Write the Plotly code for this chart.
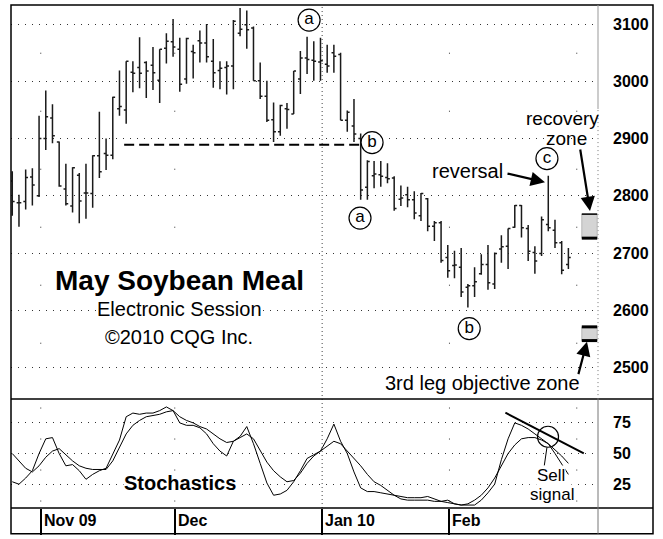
import plotly.graph_objects as go

# daily bars, late Oct 2009 to end of Feb 2010
opens = [2826, 2788, 2790, 2833, 2800, 2900, 2936, 2894, 2812, 2782,
         2836, 2805, 2804, 2870, 2874, 2871, 2952, 2950, 3016, 3024,
         3033, 3028, 3002, 3058, 3069, 3056, 3004, 3052, 3071, 3067,
         3035, 3019, 3024, 3027, 3084, 3099, 3093, 3001, 2974, 2933,
         2912, 2952, 2943, 3004, 3041, 3037, 3034, 3030, 3050, 3047,
         2932, 2922, 2900, 2815, 2835, 2837, 2832, 2831, 2794, 2802,
         2793, 2765, 2795, 2747, 2753, 2692, 2678, 2675, 2640, 2643,
         2664, 2680, 2646, 2707, 2712, 2745, 2783, 2743, 2701, 2699,
         2750, 2740, 2718, 2680]
highs = [2843, 2802, 2846, 2848, 2940, 2984, 2960, 2895, 2856, 2850,
         2840, 2856, 2871, 2947, 2900, 2973, 3019, 3035, 3035, 3077,
         3035, 3060, 3056, 3084, 3109, 3076, 3076, 3064, 3089, 3100,
         3074, 3035, 3035, 3107, 3128, 3124, 3096, 3033, 3001, 2963,
         2959, 2962, 3018, 3053, 3078, 3070, 3076, 3064, 3064, 3050,
         2949, 2969, 2909, 2862, 2861, 2861, 2857, 2834, 2818, 2816,
         2808, 2805, 2796, 2756, 2756, 2714, 2704, 2709, 2646, 2675,
         2698, 2714, 2701, 2731, 2743, 2784, 2784, 2749, 2712, 2764,
         2835, 2758, 2721, 2709]
lows = [2765, 2746, 2776, 2783, 2798, 2880, 2892, 2816, 2783, 2771,
        2752, 2760, 2779, 2831, 2845, 2864, 2940, 2926, 2981, 2988,
        2971, 2985, 2962, 3031, 3043, 2982, 2996, 3005, 3033, 3033,
        2989, 2986, 2977, 2986, 3079, 3057, 3001, 2969, 2929, 2894,
        2905, 2917, 2943, 2978, 3013, 3001, 3001, 3015, 3015, 2932,
        2912, 2894, 2793, 2793, 2813, 2816, 2822, 2774, 2782, 2780,
        2759, 2756, 2738, 2721, 2683, 2657, 2656, 2623, 2605, 2623,
        2662, 2636, 2637, 2683, 2672, 2744, 2727, 2686, 2664, 2695,
        2738, 2709, 2663, 2672]
closes = [2790, 2788, 2832, 2819, 2900, 2938, 2905, 2817, 2786, 2849,
          2791, 2805, 2870, 2842, 2871, 2972, 2956, 3035, 3014, 3014,
          3018, 3015, 3056, 3070, 3060, 2995, 3075, 3050, 3067, 3043,
          3015, 3023, 3027, 3105, 3091, 3090, 3001, 2974, 2932, 2912,
          2958, 2951, 3018, 3041, 3038, 3035, 3036, 3027, 3044, 2932,
          2946, 2908, 2810, 2860, 2838, 2834, 2830, 2778, 2796, 2793,
          2770, 2804, 2747, 2753, 2687, 2669, 2679, 2632, 2643, 2650,
          2680, 2648, 2699, 2711, 2743, 2783, 2744, 2703, 2686, 2758,
          2744, 2718, 2670, 2692]

stoch_k = [27, 25, 30, 36, 50, 62, 63, 50, 40, 41,
           36, 29, 33, 36, 38, 50, 61, 80, 83, 82,
           83, 83, 85, 88, 85, 75, 73, 73, 71, 66,
           58, 52, 48, 60, 64, 72, 58, 42, 26, 16,
           17, 20, 27, 36, 46, 49, 52, 62, 74, 60,
           50, 35, 22, 19, 19, 18, 17, 16, 15, 14,
           14, 14, 15, 13, 11, 12, 9, 8, 8, 8,
           12, 18, 25, 45, 62, 75, 73, 70, 66, 62,
           58, 50, 42, 33]
stoch_d = [50, 44, 38, 35, 40, 47, 52, 54, 49, 44,
           40, 38, 37, 37, 37, 44, 55, 66, 73, 77,
           80, 81, 82, 84, 85, 80, 77, 75, 72, 70,
           66, 62, 59, 60, 63, 66, 62, 53, 43, 36,
           31, 27, 28, 34, 42, 48, 52, 56, 60, 58,
           52, 46, 40, 33, 27, 24, 20, 16, 13, 12,
           12, 12, 12, 11, 11, 10, 9, 8, 9, 12,
           16, 22, 30, 40, 50, 57, 62, 63, 63, 61,
           58, 53, 48, 42]

month_labels = ["Nov 09", "Dec", "Jan 10", "Feb"]
month_first_bar = [4, 24, 46, 65]
price_ticks = [2500, 2600, 2700, 2800, 2900, 3000, 3100]
stoch_ticks = [25, 50, 75]

wave_labels = ["a", "b", "a", "b", "c"]
wave_x = [44.3, 53.7, 51.9, 68.2, 79.8]
wave_y = [3107, 2893, 2761, 2568, 2865]

neckline = 2889
recovery_zone = (2726, 2768)
objective_zone = (2547, 2571)

bar_index = list(range(len(opens)))

# pixel frame of the reference
LEFT, RIGHT, TOP, BOTTOM, SPLIT = 11, 598, 5, 513, 403
FONT = "Liberation Sans, Arial, sans-serif"


def px_x(px):
    return (px - LEFT) / (RIGHT - LEFT)


def px_y(py):
    return (BOTTOM - py) / (BOTTOM - TOP)


x_range = [-0.19, 87.42]
month_ticks = [b + 0.25 for b in month_first_bar]

fig = go.Figure()

fig.add_trace(go.Ohlc(
    x=bar_index, open=opens, high=highs, low=lows, close=closes,
    increasing=dict(line=dict(color="#1a1a1a", width=1.5)),
    decreasing=dict(line=dict(color="#1a1a1a", width=1.5)),
    tickwidth=0.35, xaxis="x", yaxis="y", hoverinfo="skip", showlegend=False,
))

fig.add_trace(go.Scatter(x=bar_index, y=stoch_d, mode="lines", xaxis="x2", yaxis="y2",
                         line=dict(color="black", width=1), hoverinfo="skip"))
fig.add_trace(go.Scatter(x=bar_index, y=stoch_k, mode="lines", xaxis="x2", yaxis="y2",
                         line=dict(color="black", width=1), hoverinfo="skip"))

fig.add_trace(go.Scatter(
    x=wave_x, y=wave_y, mode="markers+text", text=wave_labels,
    textposition="middle center", textfont=dict(size=17, color="black", family=FONT),
    marker=dict(symbol="circle", size=22, color="white", line=dict(color="black", width=1.2)),
    xaxis="x", yaxis="y", hoverinfo="skip",
))

# sell-signal circle on the stochastics
fig.add_trace(go.Scatter(
    x=[79.96], y=[63.7], mode="markers", xaxis="x2", yaxis="y2", hoverinfo="skip",
    marker=dict(symbol="circle-open", size=21, color="black", line=dict(width=1.2)),
))

shapes = []
# vertical month grid: sparse dots, the year change dense
for b in month_first_bar + [84]:
    xv = b + 0.25
    if b == 46:
        continue
    shapes.append(dict(type="line", xref="x", yref="y", x0=xv, x1=xv, y0=3050, y1=2445,
                       line=dict(color="#333", width=1, dash="1px,57px")))
    shapes.append(dict(type="line", xref="x2", yref="y2", x0=xv, x1=xv, y0=87.5, y1=6,
                       line=dict(color="#333", width=1, dash="1px,30px")))
jan = month_ticks[2]
shapes.append(dict(type="line", xref="x", yref="paper", x0=jan, x1=jan, y0=0, y1=1,
                   line=dict(color="#444", width=1, dash="1px,3px")))

# frame
shapes.append(dict(type="rect", xref="paper", yref="paper", x0=0, x1=px_x(653),
                   y0=px_y(539), y1=1, line=dict(color="black", width=1.5)))
shapes.append(dict(type="line", xref="paper", yref="paper", x0=0, x1=px_x(653),
                   y0=px_y(SPLIT), y1=px_y(SPLIT), line=dict(color="black", width=1.5)))
shapes.append(dict(type="line", xref="paper", yref="paper", x0=0, x1=px_x(653),
                   y0=0, y1=0, line=dict(color="black", width=1.5)))
shapes.append(dict(type="line", xref="paper", yref="paper", x0=1, x1=1,
                   y0=px_y(539), y1=px_y(SPLIT), line=dict(color="#777", width=1)))
shapes.append(dict(type="line", xref="paper", yref="paper", x0=1, x1=1,
                   y0=px_y(SPLIT), y1=px_y(110), line=dict(color="#777", width=1, dash="1px,3px")))
shapes.append(dict(type="line", xref="paper", yref="paper", x0=1, x1=1,
                   y0=px_y(110), y1=1, line=dict(color="#999", width=1)))

# neckline
shapes.append(dict(type="line", xref="x", yref="y", x0=16.7, x1=52.2, y0=neckline, y1=neckline,
                   line=dict(color="black", width=2, dash="10px,5px")))

# target zones
for lo, hi, w_top, w_bot in [(*recovery_zone, 1.5, 3), (*objective_zone, 3, 3)]:
    shapes.append(dict(type="rect", xref="x", yref="y", x0=85.0, x1=87.3, y0=lo, y1=hi,
                       fillcolor="#d4d4d4", line=dict(color="#aaa", width=0.8)))
    shapes.append(dict(type="line", xref="x", yref="y", x0=85.0, x1=87.3, y0=hi, y1=hi,
                       line=dict(color="black", width=w_top)))
    shapes.append(dict(type="line", xref="x", yref="y", x0=85.0, x1=87.3, y0=lo, y1=lo,
                       line=dict(color="black", width=w_bot)))

# stochastic trend line and pointer to the sell text
shapes.append(dict(type="line", xref="x2", yref="y2", x0=73.6, x1=85.3, y0=83.3, y1=50.2,
                   line=dict(color="black", width=2)))
shapes.append(dict(type="line", xref="x2", yref="y2", x0=79.8, x1=79.4, y0=55.0, y1=40.0,
                   line=dict(color="black", width=1)))

annotations = []


def text(s, px, py, size, bold=False, bg=None):
    annotations.append(dict(
        text=f"<b>{s}</b>" if bold else s, x=px_x(px), y=px_y(py), xref="paper", yref="paper",
        showarrow=False, font=dict(size=size, color="black", family=FONT),
        bgcolor=bg, borderpad=0, xanchor="center", yanchor="middle",
    ))


text("May Soybean Meal", 179, 283, 28, bold=True, bg="white")
text("Electronic Session", 179, 312, 20, bg="white")
text("©2010 CQG Inc.", 179, 340, 20, bg="white")
text("reversal", 467, 173, 20, bg="white")
text("recovery", 562, 120, 19)
text("zone", 566, 140, 19)
text("3rd leg objective zone", 482, 387, 20, bg="white")
text("Stochastics", 180, 488, 20, bold=True, bg="white")
text("Sell", 551, 480, 17, bg="white")
text("signal", 552, 499, 17, bg="white")


def arrow(tail, head):
    annotations.append(dict(
        text="", x=px_x(head[0]), y=px_y(head[1]), xref="paper", yref="paper",
        ax=tail[0] - head[0], ay=tail[1] - head[1], showarrow=True,
        arrowhead=2, arrowsize=1.3, arrowwidth=2.2, arrowcolor="black", standoff=0,
    ))


arrow((506, 175), (545, 184))
arrow((580, 150), (590, 213))
arrow((578, 379), (587, 345))

for lab, tick in zip(month_labels, month_ticks):
    annotations.append(dict(
        text=f"<b>{lab}</b>", x=tick, y=px_y(526), xref="x2", yref="paper",
        xanchor="left", yanchor="middle", xshift=1, showarrow=False,
        font=dict(size=16, color="black", family=FONT),
    ))

axis_font = dict(size=16, color="black", family=FONT, weight="bold")

fig.update_layout(
    width=663, height=539,
    margin=dict(l=LEFT, r=663 - RIGHT, t=TOP, b=539 - BOTTOM, pad=0),
    paper_bgcolor="white", plot_bgcolor="white", showlegend=False,
    font=dict(family=FONT, color="black"),
    xaxis=dict(domain=[0, 1], range=x_range, anchor="y", showticklabels=False,
               showgrid=False, zeroline=False, showline=False,
               rangeslider=dict(visible=False)),
    yaxis=dict(domain=[px_y(SPLIT), 1], range=[2444.8, 3133.4], side="right",
               tickvals=price_ticks, tickfont=axis_font, ticks="", ticklabelstandoff=14,
               showgrid=True, gridcolor="#333", gridwidth=1, griddash="1px,6px",
               zeroline=False, showline=False),
    xaxis2=dict(domain=[0, 1], range=x_range, anchor="y2", matches="x",
                tickvals=month_ticks, ticks="outside", ticklen=26, tickwidth=1.5,
                tickcolor="black", showticklabels=False, showgrid=False, zeroline=False,
                showline=False),
    yaxis2=dict(domain=[0, px_y(SPLIT)], range=[5.6, 94.4], side="right",
                tickvals=stoch_ticks, tickfont=axis_font, ticks="", ticklabelstandoff=14,
                showgrid=True, gridcolor="#333", gridwidth=1, griddash="1px,6px",
                zeroline=False, showline=False),
    shapes=shapes,
    annotations=annotations,
)

# the page's default body margin would push the figure off the window
fig.write_html("out.html", config={"displayModeBar": False},
               post_script="document.body.style.margin = '0px';")
